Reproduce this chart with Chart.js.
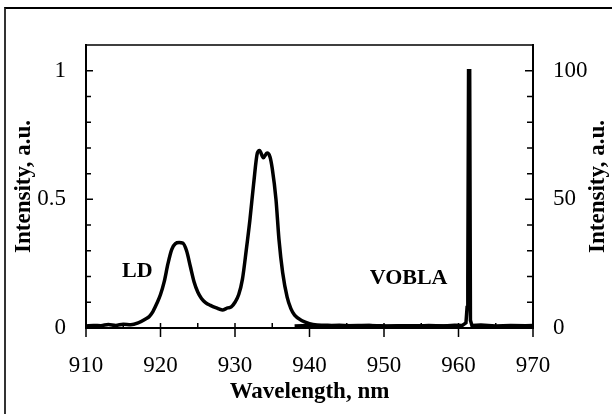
<!DOCTYPE html>
<html>
<head>
<meta charset="utf-8">
<script src="https://cdn.jsdelivr.net/npm/chart.js@4.4.1/dist/chart.umd.min.js"></script>
<style>
  html, body { margin: 0; padding: 0; background: #fff; overflow: hidden; }
  #wrap { position: relative; width: 612px; height: 414px; }
  #frame {
    position: absolute; left: 4px; top: 7px; width: 640px; height: 405px;
    border-left: 2px solid #333; border-top: 2px solid #000; border-bottom: 1px solid #ccc;
  }
  canvas { position: absolute; left: 0; top: 0; }
</style>
</head>
<body>
<div id="wrap">
  <div id="frame"></div>
  <canvas id="spectrum" width="612" height="414"></canvas>
</div>
<script>
"use strict"

// wavelength ticks (nm) and intensity ticks
var xTicks = [910, 920, 930, 940, 950, 960, 970];
var yLeftTicks = [0, 0.5, 1];
var yRightTicks = [0, 50, 100];

// LD spectrum, left axis (a.u.)
var ldWavelength = [910, 911, 912, 913, 914, 915, 916, 917, 918, 918.5, 919, 919.5, 920, 920.5, 921, 921.5, 922, 922.5, 923, 923.5,
    924, 924.5, 925, 925.5, 926, 926.7, 927.5, 928.3, 929, 929.5, 930, 930.5, 931, 931.5, 932, 932.5, 933, 933.3, 933.8,
    934.3, 934.7, 935, 935.5, 935.9, 936.4, 937, 937.5, 938, 939, 940, 941, 943, 945, 948, 951, 954, 957, 960];
var ldIntensity = [0.008, 0.01, 0.009, 0.014, 0.01, 0.015, 0.013, 0.02, 0.035, 0.045, 0.065, 0.095, 0.13, 0.18, 0.25, 0.305, 0.328, 0.332, 0.33, 0.3,
    0.24, 0.18, 0.14, 0.115, 0.1, 0.088, 0.078, 0.07, 0.078, 0.082, 0.1, 0.13, 0.19, 0.3, 0.42, 0.56, 0.68, 0.69, 0.662,
    0.68, 0.665, 0.62, 0.5, 0.345, 0.215, 0.12, 0.075, 0.05, 0.028, 0.017, 0.012, 0.01, 0.009, 0.01, 0.008, 0.009, 0.008, 0.008];

// VOBLA line, right axis (a.u.)
var voblaWavelength = [938, 940, 942, 944, 946, 948, 950, 952, 954, 956, 958, 959.5, 960.5, 961, 961.15, 961.25, 961.35, 961.5, 961.6,
    961.8, 963, 965, 967, 969, 970];
var voblaIntensity = [0.8, 1, 0.7, 1.1, 0.8, 1, 0.6, 0.9, 0.7, 1, 0.8, 1.1, 1, 2, 8, 20, 100, 100, 3,
    1, 1.2, 0.8, 1, 0.9, 1];

function toPoints(xs, ys) {
    return xs.map(function(x, i) { return { x: x, y: ys[i] }; });
}

// axis ticks drawn like the original plot: major crossing/inward, minor inward
var tickMarks = {
    id: 'tickMarks',
    afterDraw: function(chart) {
        var ctx = chart.ctx;
        var area = chart.chartArea;
        var sx = chart.scales.x, sy = chart.scales.y, sy2 = chart.scales.y2;
        ctx.save();
        ctx.strokeStyle = '#000';
        ctx.lineWidth = 1.5;
        ctx.beginPath();
        // top border
        ctx.moveTo(area.left - 1, area.top);
        ctx.lineTo(area.right + 1, area.top);
        for (var v = 910; v <= 970; v += 5) {
            var px = sx.getPixelForValue(v);
            var major = v % 10 === 0;
            ctx.moveTo(px, area.bottom - 5);
            ctx.lineTo(px, area.bottom + (major ? 9 : 0));
        }
        for (var i = 0; i <= 10; i++) {
            var pyl = sy.getPixelForValue(i / 10);
            var pyr = sy2.getPixelForValue(i * 10);
            var len = (i % 5 === 0) ? 7 : 5;
            ctx.moveTo(area.left, pyl);
            ctx.lineTo(area.left + len, pyl);
            ctx.moveTo(area.right, pyr);
            ctx.lineTo(area.right - len - 1, pyr);
        }
        ctx.stroke();

        ctx.fillStyle = '#000';

        // right axis title reads bottom-to-top, like the left one
        ctx.save();
        ctx.font = 'bold 23px "Liberation Serif", serif';
        ctx.textAlign = 'center';
        ctx.textBaseline = 'middle';
        ctx.translate(598, (area.top + area.bottom) / 2);
        ctx.rotate(-Math.PI / 2);
        ctx.fillText('Intensity, a.u.', 0, 0);
        ctx.restore();

        // peak labels
        ctx.font = 'bold 22px "Liberation Serif", serif';
        ctx.textAlign = 'center';
        ctx.textBaseline = 'alphabetic';
        ctx.fillText('LD', sx.getPixelForValue(916.9), sy.getPixelForValue(0.2));
        ctx.fillText('VOBLA', sx.getPixelForValue(953.3), sy.getPixelForValue(0.17));
        ctx.restore();
    }
};

Chart.defaults.font.family = '"Liberation Serif", "Times New Roman", serif';
Chart.defaults.color = '#000';

new Chart(document.getElementById('spectrum'), {
    type: 'line',
    data: {
        datasets: [{
            label: 'LD',
            data: toPoints(ldWavelength, ldIntensity),
            yAxisID: 'y',
            borderColor: '#000',
            borderWidth: 3.5,
            pointRadius: 0,
            cubicInterpolationMode: 'monotone',
            fill: false
        }, {
            label: 'VOBLA',
            data: toPoints(voblaWavelength, voblaIntensity),
            yAxisID: 'y2',
            borderColor: '#000',
            borderWidth: 3.5,
            pointRadius: 0,
            tension: 0,
            fill: false
        }]
    },
    options: {
        responsive: false,
        animation: false,
        layout: { padding: { top: 45, left: 0, right: 0, bottom: 0 } },
        plugins: { legend: { display: false }, tooltip: { enabled: false } },
        scales: {
            x: {
                type: 'linear',
                min: 910,
                max: 970,
                afterBuildTicks: function(s) { s.ticks = xTicks.map(function(v) { return { value: v }; }); },
                afterFit: function(s) { s.height = 86; },
                grid: { display: false, drawTicks: false },
                border: { display: true, color: '#000', width: 2 },
                ticks: { padding: 24, font: { size: 23 }, maxRotation: 0 },
                title: {
                    display: true,
                    text: 'Wavelength, nm',
                    font: { size: 23, weight: 'bold' },
                    padding: { top: 0, bottom: 8 }
                }
            },
            y: {
                position: 'left',
                min: 0,
                max: 1.1,
                afterBuildTicks: function(s) { s.ticks = yLeftTicks.map(function(v) { return { value: v }; }); },
                afterFit: function(s) { s.width = 86; },
                grid: { display: false, drawTicks: false },
                border: { display: true, color: '#000', width: 2 },
                ticks: { padding: 20, font: { size: 23 }, callback: function(v) { return String(v); } },
                title: {
                    display: true,
                    text: 'Intensity, a.u.',
                    font: { size: 23, weight: 'bold' },
                    padding: { top: 10, bottom: 0 }
                }
            },
            y2: {
                position: 'right',
                min: 0,
                max: 110,
                afterBuildTicks: function(s) { s.ticks = yRightTicks.map(function(v) { return { value: v }; }); },
                afterFit: function(s) { s.width = 79; },
                grid: { display: false, drawTicks: false },
                border: { display: true, color: '#000', width: 2 },
                ticks: { padding: 20, font: { size: 23 }, callback: function(v) { return String(v); } },
                title: { display: false }
            }
        }
    },
    plugins: [tickMarks]
});
</script>
</body>
</html>
